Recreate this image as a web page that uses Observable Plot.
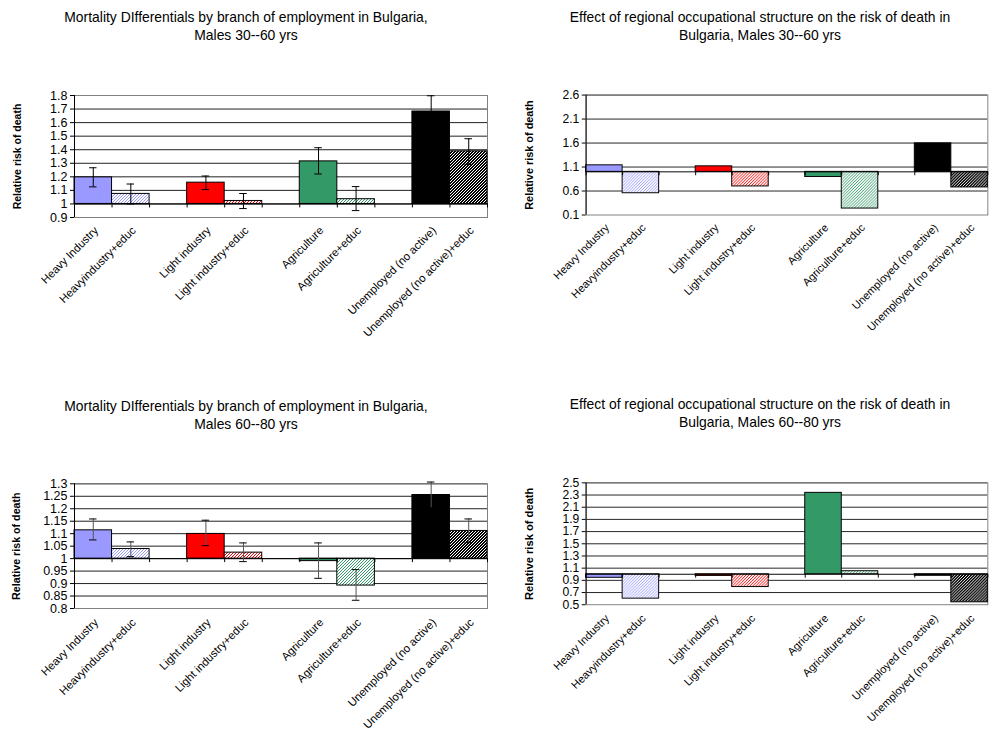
<!DOCTYPE html>
<html><head><meta charset="utf-8">
<script src="https://cdn.jsdelivr.net/npm/d3@7"></script>
<script src="https://cdn.jsdelivr.net/npm/@observablehq/plot@0.6"></script>
<style>
body{margin:0;width:1000px;height:729px;overflow:hidden;background:#fff;font-family:"Liberation Sans",Arial,sans-serif;position:relative}
.panel{position:absolute}
.title{position:absolute;width:500px;text-align:center;font-size:13.9px;line-height:17.5px;color:#000;white-space:nowrap}
</style></head><body>
<svg width="0" height="0" style="position:absolute"><defs id="defs"></defs></svg>
<script>
// ---- data ----
const categories = ["Heavy Industry","Heavyindustry+educ","Light industry","Light industry+educ","Agriculture","Agriculture+educ","Unemployed (no active)","Unemployed (no active)+educ"];
const baseColors = ["#9999FF","#FF0000","#339966","#000000"];

const titles = [
  ["Mortality DIfferentials by branch of employment in Bulgaria,","Males 30--60 yrs"],
  ["Effect of regional occupational structure on the risk of death in","Bulgaria, Males 30--60 yrs"],
  ["Mortality DIfferentials by branch of employment in Bulgaria,","Males 60--80 yrs"],
  ["Effect of regional occupational structure on the risk of death in","Bulgaria, Males 60--80 yrs"]
];
const yTitle = "Relative risk of death";

// Top-left: mortality differentials, males 30-60
const tlValues = [1.196,1.074,1.157,1.022,1.314,1.035,1.682,1.388];
const tlLow    = [1.126,1.000,1.106,0.966,1.221,0.951,1.566,1.292];
const tlHigh   = [1.267,1.147,1.206,1.077,1.415,1.128,1.798,1.481];
const tlTicks  = [0.9,1,1.1,1.2,1.3,1.4,1.5,1.6,1.7,1.8];

// Top-right: regional structure, males 30-60
const trValues = [1.136,0.554,1.115,0.696,0.892,0.235,1.594,0.675];
const trTicks  = [0.1,0.6,1.1,1.6,2.1,2.6];

// Bottom-left: mortality differentials, males 60-80
const blValues = [1.1135,1.0385,1.099,1.024,0.990,0.892,1.255,1.111];
const blLow    = [1.075,1.008,1.052,0.988,0.921,0.833,1.203,1.064];
const blHigh   = [1.159,1.067,1.154,1.063,1.063,0.956,1.307,1.159];
const blTicks  = [0.8,0.85,0.9,0.95,1,1.05,1.1,1.15,1.2,1.25,1.3];

// Bottom-right: regional structure, males 60-80
const brValues = [0.942,0.600,0.973,0.790,2.336,1.050,0.975,0.540];
const brTicks  = [0.5,0.7,0.9,1.1,1.3,1.5,1.7,1.9,2.1,2.3,2.5];

// ---- hatch patterns (fine upward diagonal, pixel aligned) ----
const hatchOn = [1, 1, 1, 2]; // dark pixels per 3-px period
const defs = document.getElementById("defs");
baseColors.forEach((c, k) => {
  let cells = "";
  for (let px = 0; px < 3; px++) for (let py = 0; py < 3; py++) {
    if ((px + py) % 3 < hatchOn[k]) cells += `<rect x="${px}" y="${py}" width="1" height="1" fill="${c}"/>`;
  }
  defs.insertAdjacentHTML("beforeend",
    `<pattern id="hatch${k}" patternUnits="userSpaceOnUse" width="3" height="3" shape-rendering="crispEdges">
       <rect width="3" height="3" fill="#fff"/>${cells}
     </pattern>`);
});

const nSlots = 11;
function makeBars(values, low, high) {
  return categories.map((c, i) => {
    const g = Math.floor(i / 2);
    return {c, i, slot: i + g, v: values[i],
      fill: i % 2 ? `url(#hatch${g})` : baseColors[g],
      lo: low ? low[i] : null, hi: high ? high[i] : null};
  });
}

function panel(cfg) {
  const bars = makeBars(cfg.values, cfg.low, cfg.high);
  const ticks = cfg.ticks;
  const marks = [
    Plot.ruleY(ticks.filter(t => t !== ticks[0]), {stroke: "#222"}),
    Plot.frame({stroke: "#808080"}),
    ...bars.map(d => Plot.rect([d], {x1: d => d.slot, x2: d => d.slot + 1, y1: 1, y2: "v", fill: d.fill, stroke: "#000", strokeWidth: 1})),
    Plot.ruleY([1], {stroke: "#000"}),
    Plot.ruleX(d3.range(nSlots + 1), {y1: 1, y2: 1, insetBottom: -4, stroke: "#000"}),
    Plot.ruleX([0], {stroke: "#000"}),
    Plot.axisY({ticks, tickSize: 4, tickPadding: 3, fontSize: 12.5, tickFormat: d => String(d), label: null}),
    Plot.text(bars, {x: d => d.slot + 0.5, text: "c", frameAnchor: "bottom", rotate: -45, textAnchor: "end", lineAnchor: "top", dy: cfg.labelDy, dx: 0, fontSize: 11.3}),
    Plot.text([yTitle], {frameAnchor: "left", rotate: -90, dx: -(cfg.ml - cfg.yTitleX), fontWeight: "bold", fontSize: cfg.yTitleSize, textAnchor: "middle"})
  ];
  if (cfg.low) {
    const eb = bars;
    marks.push(
      Plot.ruleX(eb, {x: d => d.slot + 0.5, y1: "lo", y2: "hi", stroke: cfg.errColor}),
      Plot.ruleY(eb, {x1: d => d.slot + 0.4, x2: d => d.slot + 0.6, y: "lo", stroke: "#000"}),
      Plot.ruleY(eb, {x1: d => d.slot + 0.4, x2: d => d.slot + 0.6, y: "hi", stroke: "#000"})
    );
  }
  const svg = Plot.plot({
    width: cfg.width, height: cfg.height,
    marginTop: cfg.mt, marginBottom: cfg.mb, marginLeft: cfg.ml, marginRight: cfg.mr,
    style: {fontFamily: '"Liberation Sans", Arial, sans-serif', background: "transparent", overflow: "visible"},
    x: {domain: [0, nSlots], axis: null},
    y: {domain: [ticks[0], ticks[ticks.length - 1]], axis: null},
    marks
  });
  const div = document.createElement("div");
  div.className = "panel";
  div.style.left = cfg.left + "px";
  div.style.top = cfg.top + "px";
  div.appendChild(svg);
  document.body.appendChild(div);

  const t = document.createElement("div");
  t.className = "title";
  t.style.left = (cfg.titleX - 250) + "px";
  t.style.top = cfg.titleY + "px";
  t.innerHTML = titles[cfg.k].map(s => `<div>${s}</div>`).join("");
  document.body.appendChild(t);
}

panel({k: 0, values: tlValues, low: tlLow, high: tlHigh, ticks: tlTicks, errColor: "#000",
  left: 0, top: 80, width: 500, height: 270, mt: 15, mb: 133, ml: 74, mr: 13,
  labelDy: 8, yTitleX: 17, yTitleSize: 10.5, titleX: 246, titleY: 9});
panel({k: 1, values: trValues, ticks: trTicks,
  left: 500, top: 80, width: 514, height: 270, mt: 15, mb: 131.7, ml: 88, mr: 13,
  labelDy: 8, yTitleX: 30, yTitleSize: 11.2, titleX: 760, titleY: 9});
panel({k: 2, values: blValues, low: blLow, high: blHigh, ticks: blTicks, errColor: "#555",
  left: 0, top: 470, width: 500, height: 259, mt: 13.3, mb: 121, ml: 74, mr: 13,
  labelDy: 9, yTitleX: 16, yTitleSize: 10.7, titleX: 246, titleY: 398});
panel({k: 3, values: brValues, ticks: brTicks,
  left: 500, top: 470, width: 514, height: 259, mt: 12.7, mb: 121, ml: 88, mr: 13,
  labelDy: 9, yTitleX: 30, yTitleSize: 11.5, titleX: 760, titleY: 396});
</script>
</body></html>
